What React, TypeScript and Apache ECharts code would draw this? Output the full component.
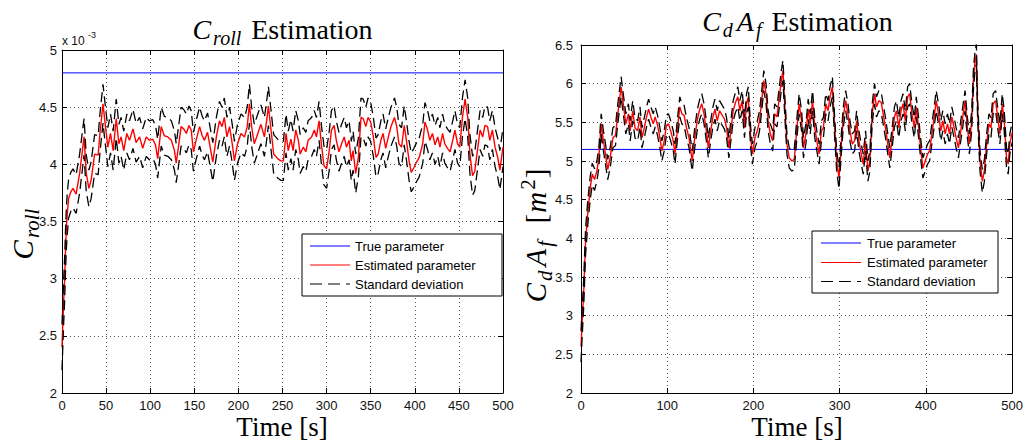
import React, { useEffect, useRef } from "react";
import * as echarts from "echarts";

// ---------------- data ----------------
// Left panel: C_roll (values in units of 1e-3)
const leftTime = [
  0, 1, 2, 3, 4, 5, 6, 7.5, 10, 12.5, 16, 20, 25, 27.5, 30.5, 33, 37, 41, 43, 46.5, 49, 52, 55, 58, 61.5, 64.5, 67, 70, 73.5, 76.5,
  80.5, 84, 88, 91.5, 95.5, 99, 103, 106, 108.5, 112.5, 116, 120, 124, 127.5, 129.5, 132, 135, 138, 141, 144,
  146.5, 149, 152, 156, 159, 161.5, 165, 168, 171, 175, 178.5, 181.5, 184, 187, 190, 193, 195.5, 199, 203, 207,
  210, 212.5, 215, 218, 222, 225.5, 229.5, 232.5, 234, 237, 240, 244.5, 248, 251, 254, 256.5, 259.5, 262, 265, 268,
  270, 273.5, 276.5, 279, 283, 286, 288.5, 291.5, 294, 297, 300, 303, 305.5, 308.5, 311, 314, 317, 320, 322.5, 325.5,
  328, 330, 333, 336, 339, 341.5, 344.5, 347, 350, 353, 356, 358.5, 361.5, 364, 367, 370, 373, 377, 379.5, 382,
  385, 388, 390.5, 393.5, 396, 399, 402, 405, 409, 411.5, 414.5, 417, 420, 423, 426, 428.5, 431.5, 434, 437, 440,
  443, 445.5, 448.5, 451, 454, 457, 460, 462.5, 465.5, 468, 471, 474, 477, 479.5, 482.5, 485, 488, 491, 494, 496.5,
  500,
];
const leftEst = [
  2.4, 2.62, 2.82, 3.0, 3.25, 3.45, 3.57, 3.7, 3.76, 3.79, 3.74, 3.92, 4.24, 3.92, 3.79, 3.86, 4.09, 4.08, 4.27, 4.53, 4.35, 4.15, 4.27, 4.12, 4.4, 4.18, 4.24, 4.12, 4.27, 4.21,
  4.31, 4.19, 4.24, 4.14, 4.24, 4.21, 4.22, 4.17, 4.05, 4.33, 4.25, 4.24, 4.21, 4.12, 4.01, 4.15, 4.33, 4.31, 4.27, 4.34,
  4.3, 4.11, 4.21, 4.33, 4.25, 4.21, 4.28, 4.15, 4.02, 4.24, 4.38, 4.33, 4.41, 4.24, 4.33, 4.18, 4.03, 4.18, 4.27, 4.24,
  4.33, 4.53, 4.33, 4.18, 4.27, 4.35, 4.24, 4.41, 4.51, 4.3, 4.09, 4.05, 4.03, 4.03, 4.27, 4.12, 4.22, 4.12, 4.3, 4.21,
  4.09, 4.15, 4.11, 4.21, 4.24, 4.3, 4.24, 4.38, 4.18, 3.99, 3.96, 4.12, 4.3, 4.34, 4.21, 4.11, 4.18, 4.24, 4.15, 4.21,
  4.03, 4.12, 3.92, 4.06, 4.41, 4.4, 4.33, 4.41, 4.37, 4.24, 4.06, 4.09, 4.21, 4.27, 4.14, 4.24, 4.33, 4.41, 4.33, 4.18,
  4.15, 4.34, 4.21, 4.03, 3.93, 3.97, 4.02, 4.06, 4.18, 4.37, 4.3, 4.21, 4.27, 4.17, 4.24, 4.15, 4.27, 4.18, 4.14, 4.11,
  4.21, 4.3, 4.18, 4.15, 4.41, 4.57, 4.41, 4.09, 3.9, 3.94, 4.12, 4.3, 4.24, 4.34, 4.33, 4.21, 4.3, 4.15, 4.06, 3.95,
  4.15,
];
const leftSd = [
  0.2, 0.2, 0.19, 0.19, 0.18, 0.18, 0.18, 0.17, 0.17, 0.17, 0.17, 0.17, 0.16, 0.16, 0.16, 0.16, 0.17, 0.17, 0.17, 0.17, 0.17, 0.17, 0.17, 0.17, 0.17, 0.17, 0.17, 0.17, 0.17, 0.17,
  0.17, 0.17, 0.17, 0.17, 0.17, 0.17, 0.17, 0.17, 0.17, 0.17, 0.17, 0.17, 0.17, 0.17, 0.17, 0.17, 0.17, 0.17, 0.17, 0.17,
  0.17, 0.17, 0.17, 0.17, 0.17, 0.17, 0.17, 0.17, 0.17, 0.17, 0.17, 0.17, 0.17, 0.17, 0.17, 0.17, 0.17, 0.17, 0.17, 0.17,
  0.17, 0.17, 0.17, 0.17, 0.17, 0.17, 0.17, 0.17, 0.17, 0.17, 0.17, 0.17, 0.17, 0.17, 0.17, 0.17, 0.17, 0.17, 0.17, 0.17,
  0.17, 0.17, 0.17, 0.17, 0.17, 0.17, 0.17, 0.17, 0.17, 0.17, 0.17, 0.17, 0.17, 0.17, 0.17, 0.17, 0.17, 0.17, 0.17, 0.17,
  0.17, 0.17, 0.17, 0.17, 0.17, 0.17, 0.17, 0.17, 0.17, 0.17, 0.17, 0.17, 0.17, 0.17, 0.17, 0.17, 0.17, 0.17, 0.17, 0.17,
  0.17, 0.17, 0.17, 0.17, 0.17, 0.17, 0.17, 0.17, 0.17, 0.17, 0.17, 0.17, 0.17, 0.17, 0.17, 0.17, 0.17, 0.17, 0.17, 0.17,
  0.17, 0.17, 0.17, 0.17, 0.17, 0.17, 0.17, 0.17, 0.17, 0.17, 0.17, 0.17, 0.17, 0.17, 0.17, 0.17, 0.17, 0.17, 0.17, 0.17,
  0.17,
];
const leftTrue = 4.8;

// Right panel: CdAf [m^2]
const rightTime = [
  0, 1.5, 3, 5.3, 8, 10.7, 13, 15.7, 18.4, 20.7, 23.4, 26, 28.4, 31, 33.8, 37, 40, 42.7, 46.5, 49,
  52, 55, 57, 60, 62.6, 65.7, 68.4, 70.7, 73.4, 76, 78.4, 81, 83.8, 86, 88.8, 91.5, 93.8, 96.5, 99, 101.5,
  104, 107, 109, 112, 114.6, 117, 119.6, 122.3, 125.3, 127.3, 129, 131.9, 135, 137.7, 140, 142.7, 145.4, 147.7, 150.4, 153,
  155.3, 158, 160.7, 163.8, 166.5, 168.8, 171.5, 174.2, 176.5, 179.2, 181.9, 184.2, 186.9, 189.6, 192, 194, 196.8, 198.8, 201.7, 204.5,
  207, 209.2, 212, 214.6, 217, 219.6, 222.3, 224.6, 227.3, 230, 232.3, 234.2, 236, 238.8, 241.5, 244.6, 247.3, 250.4, 253, 255.8,
  258, 260.8, 263.5, 265.8, 268.5, 271.1, 273.5, 276.1, 278.8, 281.1, 283.8, 286.5, 288.8, 291.5, 294.2, 296.5, 299.2, 301.9, 304.2, 306.9,
  309.6, 311.9, 314.6, 317.3, 319.6, 322.3, 325, 327.3, 330, 332.7, 335, 337.7, 340.4, 342.7, 345.4, 348.1, 350.4, 353.1, 355.8, 358.1,
  360.8, 363.5, 365.8, 368.5, 371.1, 373.5, 376.1, 378.8, 381.1, 383.8, 386.5, 388.8, 391.5, 394.2, 396.5, 399.2, 401.9, 404.2, 406.9, 409.6,
  411.9, 414.6, 417.3, 419.6, 422.3, 425, 427.3, 430, 432.7, 435, 437.7, 440.4, 442.7, 445.4, 448.1, 450.4, 453.1, 455, 457, 458.5,
  460, 462.7, 465.4, 467.7, 470.4, 473.1, 475.4, 478, 480.8, 483.1, 485.8, 488.5, 490.8, 493.5, 495.4, 497.3, 500,
];
const rightEst = [
  2.6, 2.95, 3.26, 3.96, 4.35, 4.65, 4.83, 4.76, 4.87, 5.04, 5.48, 5.26, 5.09, 4.89, 5.04, 5.3, 5.33, 5.61, 5.96, 5.74,
  5.48, 5.61, 5.39, 5.65, 5.43, 5.39, 5.57, 5.3, 5.43, 5.57, 5.67, 5.57, 5.48, 5.57, 5.46, 5.3, 5.13, 5.26, 5.46, 5.48,
  5.39, 5.26, 5.09, 5.43, 5.7, 5.61, 5.59, 5.43, 5.3, 5.13, 5.0, 5.3, 5.54, 5.67, 5.74, 5.61, 5.39, 5.17, 5.39, 5.57,
  5.67, 5.52, 5.65, 5.59, 5.54, 5.43, 5.17, 5.43, 5.65, 5.76, 5.83, 5.65, 5.78, 5.43, 5.74, 5.83, 5.3, 5.09, 5.3, 5.39,
  5.52, 5.74, 6.04, 5.87, 5.52, 5.35, 5.26, 5.61, 5.57, 5.83, 6.04, 6.17, 5.78, 5.22, 5.04, 5.0, 5.02, 5.43, 5.74, 5.52,
  5.17, 5.35, 5.67, 5.48, 5.78, 5.43, 5.26, 5.09, 5.39, 5.43, 5.74, 5.65, 5.83, 5.96, 5.43, 5.0, 4.78, 5.22, 5.57, 5.78,
  5.61, 5.39, 5.22, 5.26, 5.52, 5.26, 5.09, 4.96, 5.26, 4.87, 5.0, 5.61, 5.87, 5.7, 5.78, 5.76, 5.61, 5.43, 5.22, 5.04,
  5.3, 5.57, 5.65, 5.43, 5.65, 5.74, 5.52, 5.83, 5.87, 5.61, 5.43, 5.7, 5.43, 5.13, 4.91, 5.0, 5.09, 5.13, 5.35, 5.57,
  5.78, 5.61, 5.39, 5.52, 5.35, 5.48, 5.35, 5.57, 5.43, 5.3, 5.17, 5.39, 5.57, 5.78, 5.43, 5.22, 5.52, 6.04, 6.3, 6.38,
  5.65, 5.0, 4.74, 4.87, 5.22, 5.48, 5.43, 5.74, 5.78, 5.57, 5.35, 5.74, 5.52, 5.04, 4.96, 5.22, 5.37,
];
const rightSd = [
  0.2, 0.19, 0.18, 0.17, 0.16, 0.15, 0.14, 0.14, 0.13, 0.13, 0.13, 0.13, 0.13, 0.13, 0.13, 0.13, 0.13, 0.13, 0.13, 0.13,
  0.13, 0.13, 0.13, 0.13, 0.13, 0.13, 0.13, 0.13, 0.13, 0.13, 0.13, 0.13, 0.13, 0.13, 0.13, 0.13, 0.13, 0.13, 0.13, 0.13,
  0.13, 0.13, 0.13, 0.13, 0.13, 0.13, 0.13, 0.13, 0.13, 0.13, 0.13, 0.13, 0.13, 0.13, 0.13, 0.13, 0.13, 0.13, 0.13, 0.13,
  0.13, 0.13, 0.13, 0.13, 0.13, 0.13, 0.13, 0.13, 0.13, 0.13, 0.13, 0.13, 0.13, 0.13, 0.13, 0.13, 0.13, 0.13, 0.13, 0.13,
  0.13, 0.13, 0.13, 0.13, 0.13, 0.13, 0.13, 0.13, 0.13, 0.13, 0.13, 0.13, 0.13, 0.13, 0.13, 0.13, 0.13, 0.13, 0.13, 0.13,
  0.13, 0.13, 0.13, 0.13, 0.13, 0.13, 0.13, 0.13, 0.13, 0.13, 0.13, 0.13, 0.13, 0.13, 0.13, 0.13, 0.14, 0.13, 0.13, 0.13,
  0.13, 0.13, 0.13, 0.13, 0.13, 0.13, 0.13, 0.13, 0.13, 0.13, 0.13, 0.13, 0.13, 0.13, 0.13, 0.13, 0.13, 0.13, 0.13, 0.13,
  0.13, 0.13, 0.13, 0.13, 0.13, 0.13, 0.13, 0.13, 0.13, 0.13, 0.13, 0.13, 0.13, 0.13, 0.13, 0.13, 0.13, 0.13, 0.13, 0.13,
  0.13, 0.13, 0.13, 0.13, 0.13, 0.13, 0.13, 0.13, 0.13, 0.13, 0.13, 0.13, 0.13, 0.13, 0.13, 0.13, 0.13, 0.13, 0.13, 0.13,
  0.13, 0.13, 0.15, 0.14, 0.13, 0.13, 0.13, 0.13, 0.13, 0.13, 0.13, 0.13, 0.13, 0.13, 0.13, 0.13, 0.13,
];
const rightTrue = 5.15;

// axis ranges / ticks
const xRange = [0, 500];
const leftXStep = 50;
const rightXStep = 100;
const leftYRange = [2, 5];
const rightYRange = [2, 6.5];
const yStep = 0.5;

// legend labels
const legendNames = ["True parameter", "Estimated parameter", "Standard deviation"];

// ---------------- styling ----------------
const SANS = '"Liberation Sans", Arial, Helvetica, sans-serif';
const SERIF = '"Liberation Serif", "Times New Roman", serif';
const DASH = [10, 5];

function xAxes(gridIndex: number, step: number) {
  const common = {
    type: "value",
    gridIndex,
    min: xRange[0],
    max: xRange[1],
    interval: step,
    axisLine: { show: true, onZero: false, lineStyle: { color: "#000", width: 1 } },
    axisTick: { show: true, inside: true, length: 5, lineStyle: { color: "#000", width: 1 } },
  };
  return [
    {
      ...common,
      position: "bottom",
      axisLabel: { show: true, margin: 6, color: "#111", fontSize: 13, fontFamily: SANS },
      splitLine: { show: true, lineStyle: { color: "#555", type: [1, 3], width: 1 } },
    },
    {
      ...common,
      position: "top",
      axisLabel: { show: false },
      splitLine: { show: false },
    },
  ];
}

function yAxes(gridIndex: number, range: number[], labelMargin: number) {
  const common = {
    type: "value",
    gridIndex,
    min: range[0],
    max: range[1],
    interval: yStep,
    axisLine: { show: true, onZero: false, lineStyle: { color: "#000", width: 1 } },
    axisTick: { show: true, inside: true, length: 5, lineStyle: { color: "#000", width: 1 } },
  };
  return [
    {
      ...common,
      position: "left",
      axisLabel: { show: true, margin: labelMargin, color: "#111", fontSize: 13, fontFamily: SANS },
      splitLine: { show: true, lineStyle: { color: "#555", type: [1, 3], width: 1 } },
    },
    {
      ...common,
      position: "right",
      axisLabel: { show: false },
      splitLine: { show: false },
    },
  ];
}

function panelSeries(
  xi: number,
  yi: number,
  time: number[],
  est: number[],
  sd: number[],
  truth: number
) {
  const base = {
    type: "line",
    xAxisIndex: xi,
    yAxisIndex: yi,
    showSymbol: false,
    symbol: "none",
    silent: true,
    clip: true,
  };
  return [
    {
      ...base,
      name: legendNames[0],
      data: [
        [xRange[0], truth],
        [xRange[1], truth],
      ],
      lineStyle: { color: "#0000ff", width: 1 },
      z: 2,
    },
    {
      ...base,
      name: legendNames[1],
      data: time.map((t, i) => [t, est[i]]),
      lineStyle: { color: "#ff0000", width: 1.4 },
      z: 3,
    },
    {
      ...base,
      name: legendNames[2],
      data: time.map((t, i) => [t, +(est[i] + sd[i]).toFixed(3)]),
      lineStyle: { color: "#000", width: 1.3, type: DASH },
      z: 4,
    },
    {
      ...base,
      name: legendNames[2],
      data: time.map((t, i) => [t, +(est[i] - sd[i]).toFixed(3)]),
      lineStyle: { color: "#000", width: 1.3, type: DASH },
      z: 4,
    },
  ];
}

function legendBox(x: number, y: number, w: number, h: number, rows: number[], lineX: number, textX: number) {
  const colors = ["#0000ff", "#ff0000", "#000"];
  const els: any[] = [
    {
      type: "rect",
      shape: { x, y, width: w, height: h },
      style: { fill: "#fff", stroke: "#000", lineWidth: 1 },
      z: 100,
    },
  ];
  rows.forEach((ry, i) => {
    els.push({
      type: "line",
      shape: { x1: lineX, y1: ry, x2: lineX + 40, y2: ry },
      style: { stroke: colors[i], lineWidth: 1.2, lineDash: i === 2 ? [12, 6] : null },
      z: 101,
    });
    els.push({
      type: "text",
      x: textX,
      y: ry,
      style: {
        text: legendNames[i],
        font: `13px ${SANS}`,
        fill: "#000",
        align: "left",
        textAlign: "left",
        verticalAlign: "middle",
        textVerticalAlign: "middle",
      },
      z: 101,
    });
  });
  return els;
}

// rich-text styles for math-like labels (italic symbols with sub/superscripts)
const mathRich = (base: number, sub: number, drop: number) => {
  const mainCenter = 4 + base / 2;
  const mainBaseline = mainCenter + 0.3375 * base;
  const subCenter = mainBaseline + drop - 0.3375 * sub;
  const ps = Math.round(subCenter - sub / 2);
  return {
    m: { fontFamily: SERIF, fontStyle: "italic", fontSize: base, lineHeight: base, verticalAlign: "top", padding: [4, 1, 0, 1], color: "#000" },
    r: { fontFamily: SERIF, fontSize: base, lineHeight: base, verticalAlign: "top", padding: [4, 0, 0, 0], color: "#000" },
    s: { fontFamily: SERIF, fontStyle: "italic", fontSize: sub, lineHeight: sub, verticalAlign: "top", padding: [ps, 3, 0, 1], color: "#000" },
    p: { fontFamily: SERIF, fontSize: sub, lineHeight: sub, verticalAlign: "top", padding: [0, 1, 0, 1], color: "#000" },
  };
};

function textEl(x: number, y: number, text: string, rich: any, rotation = 0, align = "center") {
  return {
    type: "text",
    x,
    y,
    rotation,
    style: {
      text,
      rich,
      fill: "#000",
      align,
      textAlign: align,
      verticalAlign: "middle",
      textVerticalAlign: "middle",
    },
    z: 50,
  };
}

export default function App() {
  const ref = useRef<HTMLDivElement>(null);

  useEffect(() => {
    if (!ref.current) return;
    const chart = echarts.init(ref.current, undefined, { renderer: "svg" });

    const titleRich = mathRich(28, 20, 6);
    const yNameRich = mathRich(29, 21, 6);

    const option: any = {
      animation: false,
      backgroundColor: "#fff",
      grid: [
        { left: 62, top: 50, width: 441, height: 343 },
        { left: 581, top: 45, width: 432, height: 348 },
      ],
      xAxis: [...xAxes(0, leftXStep), ...xAxes(1, rightXStep)],
      yAxis: [...yAxes(0, leftYRange, 5), ...yAxes(1, rightYRange, 8)],
      series: [
        ...panelSeries(0, 0, leftTime, leftEst, leftSd, leftTrue),
        ...panelSeries(2, 2, rightTime, rightEst, rightSd, rightTrue),
      ],
      graphic: [
        // titles
        textEl(282, 25, "{m|C}{s|roll}{r| Estimation}", titleRich),
        textEl(797, 17, "{m|C}{s|d}{m|A}{s|f}{r| Estimation}", titleRich),
        // x-axis names
        {
          type: "text",
          x: 282,
          y: 427,
          style: { text: "Time [s]", font: `27px ${SERIF}`, fill: "#000", align: "center", textAlign: "center", verticalAlign: "middle", textVerticalAlign: "middle" },
        },
        {
          type: "text",
          x: 797,
          y: 427,
          style: { text: "Time [s]", font: `27px ${SERIF}`, fill: "#000", align: "center", textAlign: "center", verticalAlign: "middle", textVerticalAlign: "middle" },
        },
        // y-axis names (rotated)
        textEl(19, 233, "{m|C}{s|roll}", yNameRich, Math.PI / 2),
        textEl(532, 236, "{m|C}{s|d}{m|A}{s|f}{r|  [}{m|m}{p|2}{r|]}", yNameRich, Math.PI / 2),
        // exponent note
        {
          type: "text",
          x: 62,
          y: 41,
          style: { text: "x 10", font: `12px ${SANS}`, fill: "#111", align: "left", textAlign: "left", verticalAlign: "middle", textVerticalAlign: "middle" },
        },
        {
          type: "text",
          x: 88,
          y: 35,
          style: { text: "-3", font: `9px ${SANS}`, fill: "#111", align: "left", textAlign: "left", verticalAlign: "middle", textVerticalAlign: "middle" },
        },
        // legends
        ...legendBox(302, 234, 200, 62, [246, 265, 284], 310, 355),
        ...legendBox(812, 231, 186, 62, [243, 262.5, 281.5], 821, 867),
      ],
    };

    chart.setOption(option);
    return () => chart.dispose();
  }, []);

  return (
    <div
      ref={ref}
      style={{ position: "fixed", left: 0, top: 0, width: 1026, height: 443, background: "#fff" }}
    />
  );
}
